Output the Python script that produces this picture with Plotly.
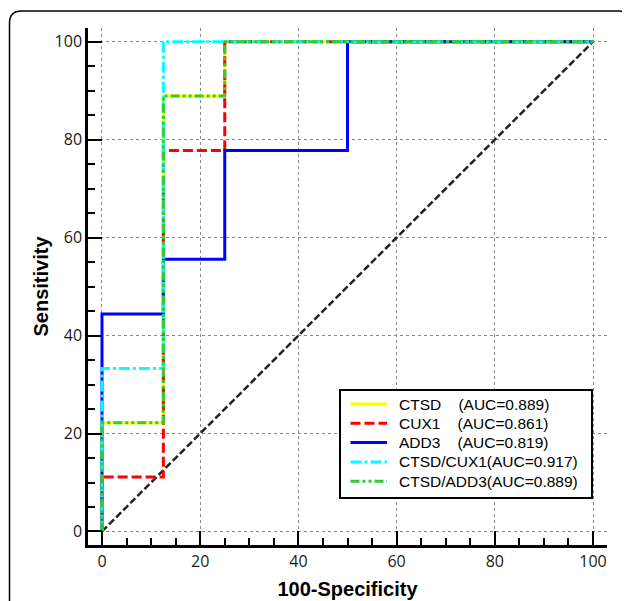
import plotly.graph_objects as go

# ROC curve data (100-Specificity, Sensitivity)
ctsd_x = [0, 0, 12.5, 12.5, 25, 25, 100]
ctsd_y = [0, 22.2, 22.2, 88.9, 88.9, 100, 100]
cux1_x = [0, 0, 12.5, 12.5, 25, 25, 100]
cux1_y = [0, 11.1, 11.1, 77.8, 77.8, 100, 100]
add3_x = [0, 0, 12.5, 12.5, 25, 25, 50, 50, 100]
add3_y = [0, 44.4, 44.4, 55.6, 55.6, 77.8, 77.8, 100, 100]
ctsd_cux1_x = [0, 0, 12.5, 12.5, 100]
ctsd_cux1_y = [0, 33.3, 33.3, 100, 100]
ctsd_add3_x = [0, 0, 12.5, 12.5, 25, 25, 100]
ctsd_add3_y = [0, 22.2, 22.2, 88.9, 88.9, 100, 100]
diag_x = [0, 100]
diag_y = [0, 100]

NB = "\u00a0"
names = [
    "CTSD" + NB * 4 + "(AUC=0.889)",
    "CUX1" + NB * 4 + "(AUC=0.861)",
    "ADD3" + NB * 4 + "(AUC=0.819)",
    "CTSD/CUX1(AUC=0.917)",
    "CTSD/ADD3(AUC=0.889)",
]
tick_vals = [0, 20, 40, 60, 80, 100]

colors = ["#ffff00", "#ff0000", "#0000ff", "#00ffff", "#33cc33"]
dashes = ["solid", "10px,4px", "solid", "11px,3px,3px,3px",
          "9px,3px,3px,3px,3px,3px"]
xs_all = [ctsd_x, cux1_x, add3_x, ctsd_cux1_x, ctsd_add3_x]
ys_all = [ctsd_y, cux1_y, add3_y, ctsd_cux1_y, ctsd_add3_y]

fig = go.Figure()
fig.add_trace(go.Scatter(x=diag_x, y=diag_y, mode="lines", showlegend=False,
                         line=dict(color="#222222", width=2.5, dash="7px,3px")))
for xs, ys, nm, col, dsh in zip(xs_all, ys_all, names, colors, dashes):
    fig.add_trace(go.Scatter(x=xs, y=ys, mode="lines", name=nm, showlegend=False,
                             line=dict(color=col, width=3, dash=dsh)))

# page is offset by the 8px body margin
OFF = 8
W, H = 630 - OFF, 601 - OFF
L, T = 88 - OFF, 28 - OFF
R = W - (607 - OFF)
B = H - (545 - OFF)
pw, ph = W - L - R, H - T - B

axis_common = dict(
    showline=True, linecolor="black", linewidth=2.5, mirror=False,
    ticks="inside", ticklen=14, tickwidth=2, tickcolor="black",
    tickvals=tick_vals, showgrid=True, gridcolor="#888888", gridwidth=1,
    griddash="dot", zeroline=False, automargin=False,
    tickfont=dict(family="Open Sans", size=16, color="#1a1a1a"),
    minor=dict(ticks="inside", dtick=5, ticklen=7, tickwidth=2,
               tickcolor="black", showgrid=False),
)

fig.update_layout(
    width=W, height=H,
    margin=dict(l=L, r=R, t=T, b=B, pad=0),
    paper_bgcolor="white", plot_bgcolor="white",
    showlegend=False,
    xaxis=dict(range=[-2.85, 102.85],
               title=dict(text="100-Specificity", standoff=12,
                          font=dict(family="Liberation Sans", size=20,
                                    color="black", weight="bold")),
               **axis_common),
    yaxis=dict(range=[-2.76, 102.8],
               title=dict(text="Sensitivity", standoff=1,
                          font=dict(family="Liberation Sans", size=20,
                                    color="black", weight="bold")),
               **axis_common),
)


def px2x(px):
    return (px - OFF - L) / pw


def py2y(py):
    return (H - B - (py - OFF)) / ph


# outer rounded frame
r = 12
x0, x1, yt = 9.5, 631, 11
path = (f"M {px2x(x0)},{py2y(615)} L {px2x(x0)},{py2y(yt + r)} "
        f"Q {px2x(x0)},{py2y(yt)} {px2x(x0 + r)},{py2y(yt)} "
        f"L {px2x(x1 - r)},{py2y(yt)} "
        f"Q {px2x(x1)},{py2y(yt)} {px2x(x1)},{py2y(yt + r)} "
        f"L {px2x(x1)},{py2y(615)}")
fig.add_shape(type="path", path=path, xref="paper", yref="paper",
              line=dict(color="black", width=1.5), layer="above")

# legend box (drawn manually for exact row spacing)
fig.add_shape(type="rect", xref="paper", yref="paper",
              x0=px2x(340), x1=px2x(592), y0=py2y(498), y1=py2y(390),
              line=dict(color="black", width=2), fillcolor="white",
              layer="above")
row_y = [404, 423.3, 442.6, 461.9, 481.2]
for ry, nm, col, dsh in zip(row_y, names, colors, dashes):
    fig.add_shape(type="line", xref="paper", yref="paper",
                  x0=px2x(350.5), x1=px2x(387), y0=py2y(ry), y1=py2y(ry),
                  line=dict(color=col, width=3, dash=dsh), layer="above")
    fig.add_annotation(xref="paper", yref="paper", x=px2x(397), y=py2y(ry),
                       xanchor="left", yanchor="middle", showarrow=False,
                       text=nm,
                       font=dict(family="Liberation Sans", size=15.5,
                                 color="black"))

fig.write_html("out.html")
